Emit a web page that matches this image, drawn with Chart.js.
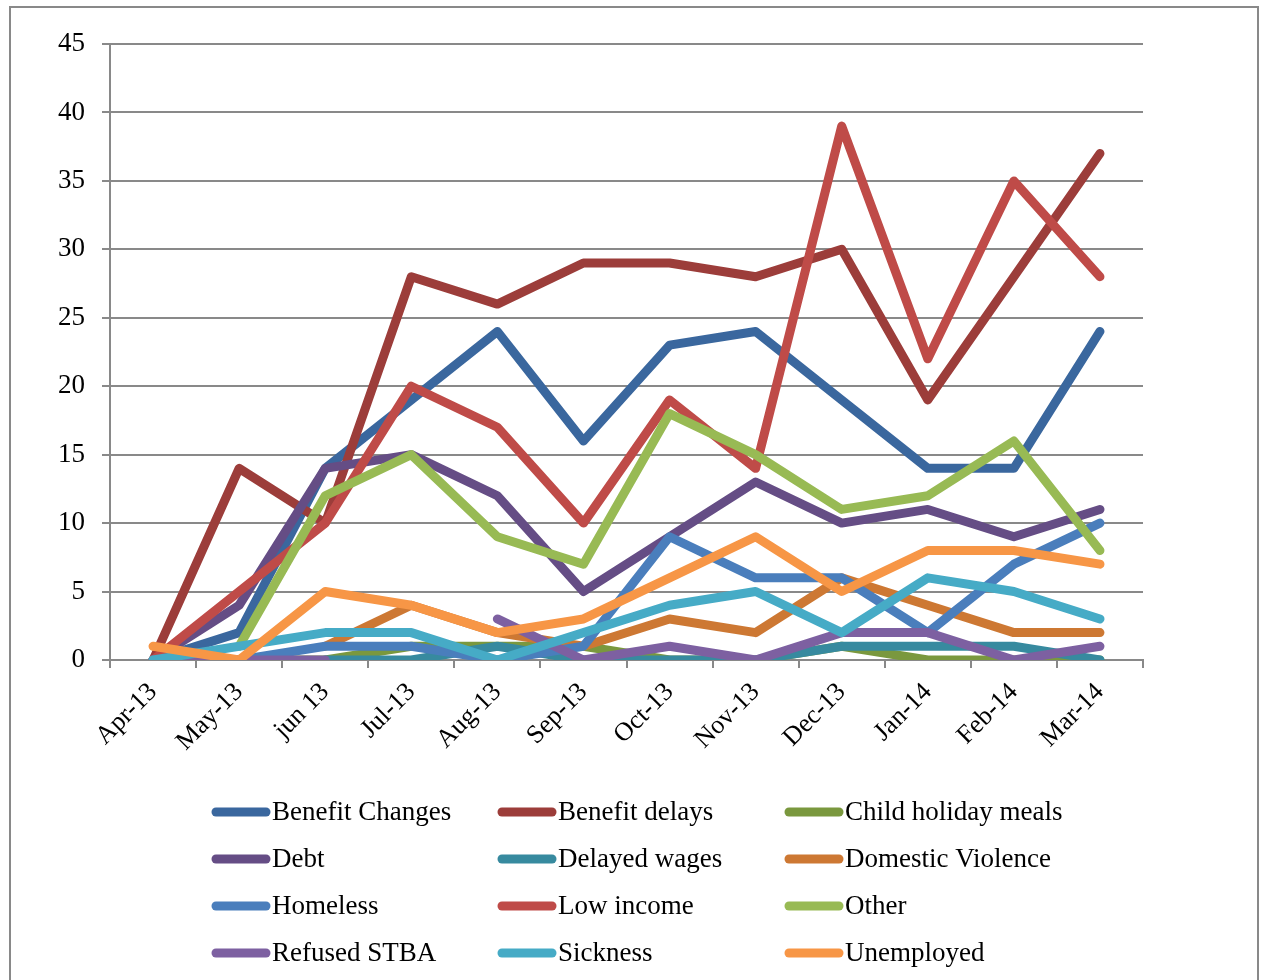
<!DOCTYPE html>
<html>
<head>
<meta charset="utf-8">
<script src="https://cdn.jsdelivr.net/npm/chart.js@4.4.0/dist/chart.umd.min.js"></script>
<style>
html,body{margin:0;padding:0;background:#fff;}
#wrap{width:1262px;height:980px;position:relative;}
</style>
</head>
<body>
<div id="wrap"><canvas id="c" width="1262" height="980"></canvas></div>
<script>
const months = ["Apr-13","May-13","jun 13","Jul-13","Aug-13","Sep-13","Oct-13","Nov-13","Dec-13","Jan-14","Feb-14","Mar-14"];
const yTicks = [0,5,10,15,20,25,30,35,40,45];

const seriesNames = ["Benefit Changes","Benefit delays","Child holiday meals","Debt","Delayed wages","Domestic Violence","Homeless","Low income","Other","Refused STBA","Sickness","Unemployed"];
const seriesColors = ["#3A679E","#9C3D3A","#7A983E","#654D85","#378A9F","#CD7833","#4A7EBC","#BF4B48","#98BA54","#7D60A1","#46ABC6","#F79646"];

const benefitChanges    = [0, 2, 14, 19, 24, 16, 23, 24, 19, 14, 14, 24];
const benefitDelays     = [0, 14, 10, 28, 26, 29, 29, 28, 30, 19, 28, 37];
const childHolidayMeals = [0, 0, 0, 1, 1, 1, 0, 0, 1, 0, 0, 0];
const debt              = [0, 4, 14, 15, 12, 5, 9, 13, 10, 11, 9, 11];
const delayedWages      = [null, null, 0, 0, 1, 0, 0, 0, 1, 1, 1, 0];
const domesticViolence  = [null, null, 1, 4, 2, 1, 3, 2, 6, 4, 2, 2];
const homeless          = [0, 0, 1, 1, 0, 1, 9, 6, 6, 2, 7, 10];
const lowIncome         = [0, 5, 10, 20, 17, 10, 19, 14, 39, 22, 35, 28];
const other             = [null, 1, 12, 15, 9, 7, 18, 15, 11, 12, 16, 8];
const refusedSTBA       = [0, 0, 0, null, 3, 0, 1, 0, 2, 2, 0, 1];
const sickness          = [0, 1, 2, 2, 0, 2, 4, 5, 2, 6, 5, 3];
const unemployed        = [1, 0, 5, 4, 2, 3, 6, 9, 5, 8, 8, 7];

const seriesValues = [benefitChanges, benefitDelays, childHolidayMeals, debt, delayedWages, domesticViolence, homeless, lowIncome, other, refusedSTBA, sickness, unemployed];

const FONT = "'Liberation Serif', 'Times New Roman', serif";
const GRID = "#898989";

const datasets = seriesNames.map((name, i) => ({
  label: name,
  data: seriesValues[i],
  borderColor: seriesColors[i],
  backgroundColor: seriesColors[i],
  borderWidth: 9,
  pointRadius: 0,
  pointHoverRadius: 0,
  tension: 0,
  spanGaps: false,
  borderCapStyle: 'round',
  borderJoinStyle: 'round',
  order: seriesNames.length - i
}));

const frameAndLegend = {
  id: 'frameAndLegend',
  beforeDraw(chart) {
    const ctx = chart.ctx;
    ctx.save();
    ctx.fillStyle = '#fff';
    ctx.fillRect(0, 0, chart.width, chart.height);
    ctx.strokeStyle = GRID;
    ctx.lineWidth = 2;
    ctx.strokeRect(10, 7, 1248, 985);
    ctx.restore();
  },
  afterDraw(chart) {
    const ctx = chart.ctx;
    const colX = [212, 498, 785];
    const rowY = [812, 859, 906, 953];
    ctx.save();
    ctx.font = "27px " + FONT;
    ctx.textBaseline = 'middle';
    ctx.textAlign = 'left';
    chart.data.datasets.forEach((ds, i) => {
      const x = colX[i % 3];
      const y = rowY[Math.floor(i / 3)];
      ctx.strokeStyle = ds.borderColor;
      ctx.lineWidth = 9;
      ctx.lineCap = 'round';
      ctx.beginPath();
      ctx.moveTo(x + 4, y);
      ctx.lineTo(x + 54, y);
      ctx.stroke();
      ctx.fillStyle = '#000';
      ctx.fillText(ds.label, x + 60, y + 1);
    });
    ctx.restore();
  }
};

new Chart(document.getElementById('c'), {
  type: 'line',
  data: { labels: months, datasets },
  plugins: [frameAndLegend],
  options: {
    responsive: false,
    devicePixelRatio: 1,
    animation: false,
    events: [],
    layout: { padding: { top: 44, right: 119, bottom: 200, left: 0 } },
    plugins: { legend: { display: false }, tooltip: { enabled: false } },
    scales: {
      x: {
        type: 'category',
        offset: true,
        afterFit(scale) { scale.height = 120; },
        grid: { offset: true, drawOnChartArea: false, drawTicks: true, tickLength: 8, color: GRID, lineWidth: 2 },
        border: { display: true, color: GRID, width: 2 },
        ticks: { autoSkip: false, maxRotation: 45, minRotation: 45, padding: 9, color: '#000', font: { family: FONT, size: 26 } }
      },
      y: {
        min: 0, max: 45,
        afterFit(scale) { scale.width = 110; },
        afterBuildTicks(scale) { scale.ticks = yTicks.map(v => ({ value: v })); },
        grid: { color: GRID, lineWidth: 2, tickLength: 8, drawTicks: true },
        border: { display: true, color: GRID, width: 2 },
        ticks: { padding: 17, color: '#000', font: { family: FONT, size: 27 } }
      }
    }
  }
});
</script>
</body>
</html>
